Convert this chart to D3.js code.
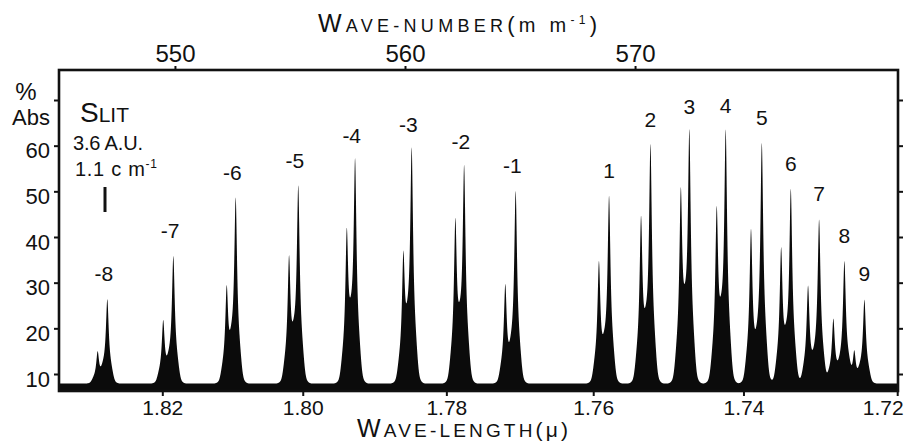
<!DOCTYPE html>
<html>
<head>
<meta charset="utf-8">
<script src="https://cdn.jsdelivr.net/npm/d3@7"></script>
<style>
  body { margin: 0; background: #fff; }
  svg text { font-family: "Liberation Sans", Arial, sans-serif; fill: #111; }
</style>
</head>
<body>
<svg id="chart"></svg>
<script>
// DATA
////////////////////////////
// rotation lines, m = -8 .. 9 ; main (H35Cl) peak and its isotope partner (H37Cl) just to the left
var lineLabels = ["-8","-7","-6","-5","-4","-3","-2","-1","1","2","3","4","5","6","7","8","9"];
var mainWn  = [547.06, 549.93, 552.64, 555.36, 557.83, 560.29, 562.57, 564.81,
               568.87, 570.67, 572.36, 573.94, 575.51, 576.77, 578.00, 579.10, 579.97];   // mm^-1
var mainAbs = [26.3, 35.7, 48.3, 50.9, 56.4, 58.9, 55.1, 49.9,
               48.8, 59.9, 62.7, 62.9, 60.4, 50.2, 43.7, 34.6, 26.2];                     // % abs
var isoWn   = [546.64, 549.49, 552.25, 554.96, 557.47, 559.93, 562.19, 564.36,
               568.43, 570.26, 571.99, 573.55, 575.04, 576.35, 577.52, 578.62, 579.53];
var isoAbs  = [14.8, 21.6, 28.8, 35.4, 40.8, 35.7, 43.3, 29.4,
               34.4, 44.0, 49.7, 45.9, 41.5, 37.3, 29.2, 22.0, 14.8];
var baseAbs = 7.9;                       // flat floor between lines

var absTicks = [10, 20, 30, 40, 50, 60, 70];
var wnTicks = [550, 560, 570];
var wlTicks = [1.82, 1.80, 1.78, 1.76, 1.74, 1.72];   // microns
var wlTickLabels = ["1.82", "1.80", "1.78", "1.76", "1.74", "1.72"];


// SETUP
////////////////////////////
var width = 907, height = 443;
var plot = {left: 59, right: 898, top: 70, bottom: 391};

var svg = d3.select("#chart")
    .attr("width", width)
    .attr("height", height);

svg.append("rect").attr("width", width).attr("height", height).attr("fill", "#fff");

// chart is linear in wave-number; wave-length axis just gets placed via 1000/lambda
var x = d3.scaleLinear().domain([544.96, 581.43]).range([plot.left, plot.right]);
var y = d3.scaleLinear().domain([10, 70]).range([374, 100]);
var yFloor = y.invert(plot.bottom);

// line shape (pixels): spike with clipped wings + a steep-sided pedestal
var spikeW = 1.7, wingCut = 10, pedW = 6, spikeShare = 0.85;
function shape(dpx) {
  var a = spikeShare * spikeW * spikeW / (dpx * dpx + spikeW * spikeW)
          * Math.exp(-Math.pow(Math.abs(dpx) / wingCut, 4));
  var b = (1 - spikeShare) * Math.exp(-Math.pow(Math.abs(dpx) / pedW, 4));
  return a + b;
}

var lines = [];
mainWn.forEach(function(w, i) {
  lines.push({wn: w, amp: mainAbs[i] - baseAbs});
  lines.push({wn: isoWn[i], amp: isoAbs[i] - baseAbs});
});

// sample the trace; include each line centre so tips stay sharp
var grid = d3.range(x.domain()[0], x.domain()[1], 0.004)
    .concat(lines.map(function(l) { return l.wn; }))
    .sort(d3.ascending);

var trace = grid.map(function(w) {
  var px = x(w), v = baseAbs;
  lines.forEach(function(l) { v += l.amp * shape(px - x(l.wn)); });
  return {wn: w, abs: v};
});

svg.append("clipPath").attr("id", "plotclip")
  .append("rect")
    .attr("x", plot.left).attr("y", plot.top)
    .attr("width", plot.right - plot.left).attr("height", plot.bottom - plot.top);

var area = d3.area()
    .x(function(d) { return x(d.wn); })
    .y0(y(yFloor))
    .y1(function(d) { return y(d.abs); });

svg.append("path")
    .datum(trace)
    .attr("clip-path", "url(#plotclip)")
    .attr("fill", "#0b0b0b")
    .attr("d", area);


// AXES
////////////////////////////
function styleAxis(g, size) {
  g.select(".domain").remove();
  g.selectAll(".tick line").attr("stroke", "#111").attr("stroke-width", 2);
  g.selectAll(".tick text").attr("font-size", size).attr("fill", "#111")
    .attr("font-family", "Liberation Sans, Arial, sans-serif");
}

svg.append("g")
    .attr("transform", "translate(" + plot.left + ",0)")
    .call(d3.axisLeft(y).tickValues(absTicks).tickSize(5).tickPadding(4)
      .tickFormat(function(d) { return d === 70 ? "" : d; }))
    .call(styleAxis, 22)
    .selectAll(".tick text").attr("dy", "0.55em");

svg.append("g")
    .attr("transform", "translate(" + plot.right + ",0)")
    .call(d3.axisRight(y).tickValues(absTicks).tickSize(5).tickFormat(""))
    .call(styleAxis, 21);

var bottomAxis = svg.append("g")
    .attr("transform", "translate(0," + plot.bottom + ")")
    .call(d3.axisBottom(x)
      .tickValues(wlTicks.map(function(l) { return 1000 / l; }))
      .tickSize(5).tickPadding(4)
      .tickFormat(function(d, i) { return wlTickLabels[i]; }))
    .call(styleAxis, 21);
// last label sits against the right edge
bottomAxis.selectAll(".tick text")
    .filter(function(d, i) { return i === wlTicks.length - 1; })
    .attr("text-anchor", "end").attr("dx", 6);

svg.append("g")
    .attr("transform", "translate(0," + plot.top + ")")
    .call(d3.axisTop(x).tickValues(wnTicks).tickSize(4).tickPadding(4))
    .call(styleAxis, 24);

// frame
svg.append("rect")
    .attr("x", plot.left).attr("y", plot.top)
    .attr("width", plot.right - plot.left).attr("height", plot.bottom - plot.top)
    .attr("fill", "none").attr("stroke", "#111").attr("stroke-width", 2.6);


// LABELS
////////////////////////////
svg.append("g").selectAll("text")
  .data(lineLabels)
  .enter().append("text")
    .attr("x", function(d, i) { return x(mainWn[i]) + (d.charAt(0) === "-" ? 6 : 0); })
    .attr("y", function(d, i) { return y(mainAbs[i]) - 19; })
    .attr("text-anchor", function(d) { return d.charAt(0) === "-" ? "end" : "middle"; })
    .attr("font-size", 21)
    .text(function(d) { return d; });

// top title
var t1 = svg.append("text").attr("x", 318).attr("y", 32)
    .attr("textLength", 279).attr("lengthAdjust", "spacing");
t1.append("tspan").attr("font-size", 25).text("W");
t1.append("tspan").attr("font-size", 18).text("AVE-NUMBER");
t1.append("tspan").attr("font-size", 22).text("(");
t1.append("tspan").attr("font-size", 20).text("m m");
t1.append("tspan").attr("font-size", 12).attr("dy", -8).text("-1");
t1.append("tspan").attr("font-size", 22).attr("dy", 8).text(")");

// bottom title
var t2 = svg.append("text").attr("x", 357).attr("y", 437)
    .attr("textLength", 211).attr("lengthAdjust", "spacing");
t2.append("tspan").attr("font-size", 25).text("W");
t2.append("tspan").attr("font-size", 19).text("AVE-LENGTH");
t2.append("tspan").attr("font-size", 21).text("(μ)");

// y label
svg.append("text").attr("x", 26).attr("y", 100).attr("text-anchor", "middle")
    .attr("font-size", 24).text("%");
svg.append("text").attr("x", 31).attr("y", 125).attr("text-anchor", "middle")
    .attr("font-size", 22).text("Abs");

// slit note
var s1 = svg.append("text").attr("x", 80).attr("y", 122);
s1.append("tspan").attr("font-size", 28).text("S");
s1.append("tspan").attr("font-size", 21).text("LIT");
svg.append("text").attr("x", 73).attr("y", 150).attr("font-size", 20)
    .attr("textLength", 70).attr("lengthAdjust", "spacing").text("3.6 A.U.");
var s3 = svg.append("text").attr("x", 75).attr("y", 176)
    .attr("textLength", 82).attr("lengthAdjust", "spacing");
s3.append("tspan").attr("font-size", 20).text("1.1 c m");
s3.append("tspan").attr("font-size", 12).attr("dy", -8).text("-1");
svg.append("line")
    .attr("x1", 105).attr("x2", 105).attr("y1", 187).attr("y2", 212)
    .attr("stroke", "#111").attr("stroke-width", 3);
</script>
</body>
</html>
